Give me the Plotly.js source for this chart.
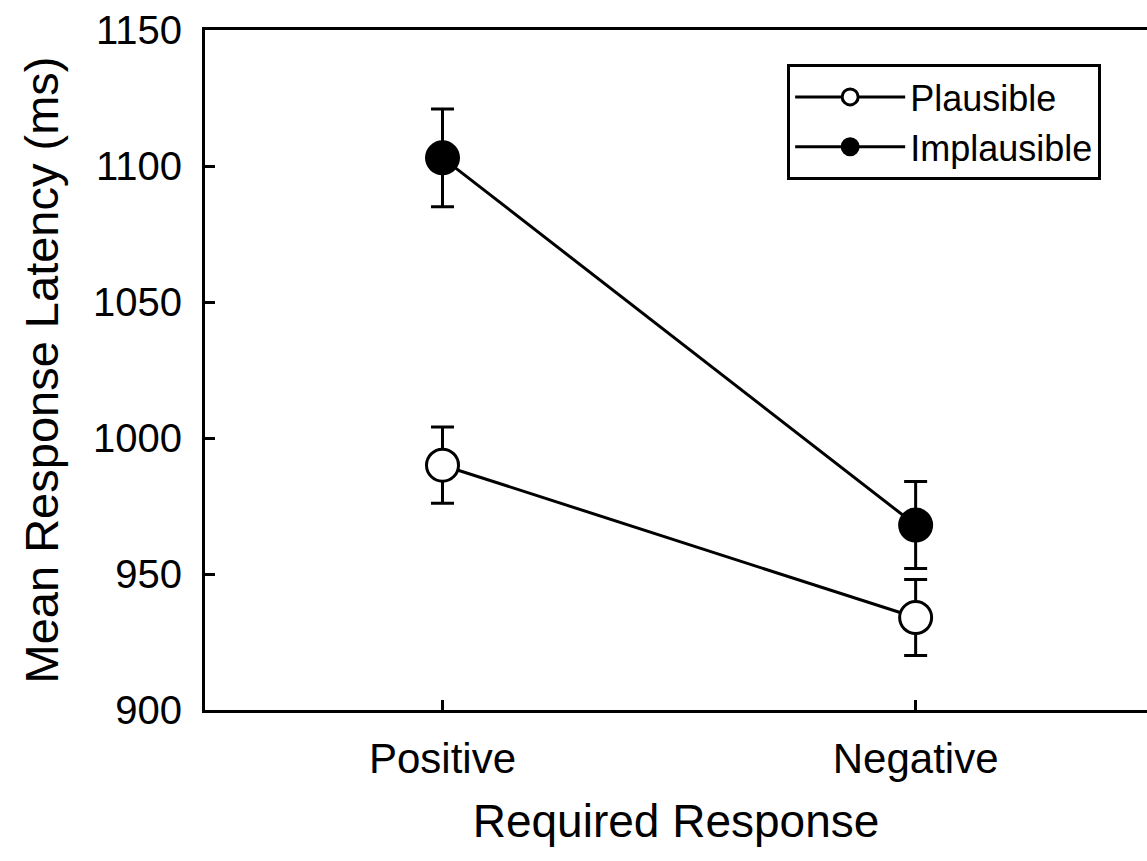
<!DOCTYPE html>
<html>
<head>
<meta charset="utf-8">
<script src="https://cdn.plot.ly/plotly-3.0.1.min.js"></script>
<style>html,body{margin:0;padding:0;background:#fff;}#chart{width:1147px;height:861px;}</style>
</head>
<body>
<div id="chart"></div>
<script>
const categories = ["Positive", "Negative"];
const plausibleMeans = [990, 934];
const plausibleErr = [14, 14];
const implausibleMeans = [1103, 968];
const implausibleErr = [18, 16];
const yTickVals = [900, 950, 1000, 1050, 1100, 1150];
const yTickText = ["900", "950", "1000", "1050", "1100", "1150"];

const FONT = "Liberation Sans, Arial, sans-serif";

const traces = [
  {
    x: categories, y: plausibleMeans, name: "Plausible", type: "scatter", mode: "lines+markers",
    line: {color: "black", width: 3},
    marker: {symbol: "circle", size: 32, color: "white", line: {color: "black", width: 3}},
    error_y: {type: "data", array: plausibleErr, visible: true, color: "black", thickness: 3, width: 11.5}
  },
  {
    x: categories, y: implausibleMeans, name: "Implausible", type: "scatter", mode: "lines+markers",
    line: {color: "black", width: 3},
    marker: {symbol: "circle", size: 32, color: "black", line: {color: "black", width: 3}},
    error_y: {type: "data", array: implausibleErr, visible: true, color: "black", thickness: 3, width: 11.5}
  }
];

const layout = {
  width: 1147, height: 861,
  margin: {l: 205, r: 0, t: 30, b: 151, pad: 0},
  paper_bgcolor: "white", plot_bgcolor: "white",
  font: {family: FONT, color: "black", size: 36},
  showlegend: true,
  legend: {
    x: 0.618, y: 0.950, xanchor: "left", yanchor: "top",
    bordercolor: "black", borderwidth: 3, bgcolor: "white",
    font: {family: FONT, size: 36, color: "black"},
    itemwidth: 110
  },
  xaxis: {
    type: "category", range: [-0.502, 1.489],
    showline: true, linecolor: "black", linewidth: 3, mirror: true,
    ticks: "inside", ticklen: 10, tickwidth: 3, tickcolor: "black",
    showgrid: false, zeroline: false,
    tickfont: {family: FONT, size: 42, color: "black"},
    ticklabelstandoff: 10,
    title: {text: "Required Response", font: {family: FONT, size: 46, color: "black"}, standoff: 24}
  },
  yaxis: {
    range: [900, 1150], tickvals: yTickVals, ticktext: yTickText,
    showline: true, linecolor: "black", linewidth: 3, mirror: false,
    ticks: "inside", ticklen: 10, tickwidth: 3, tickcolor: "black",
    showgrid: false, zeroline: false,
    tickfont: {family: FONT, size: 40, color: "black"},
    ticklabelstandoff: 12,
    title: {text: "Mean Response Latency (ms)", font: {family: FONT, size: 47, color: "black"}, standoff: 20}
  }
};

Plotly.newPlot("chart", traces, layout, {displayModeBar: false, staticPlot: true});
</script>
</body>
</html>
